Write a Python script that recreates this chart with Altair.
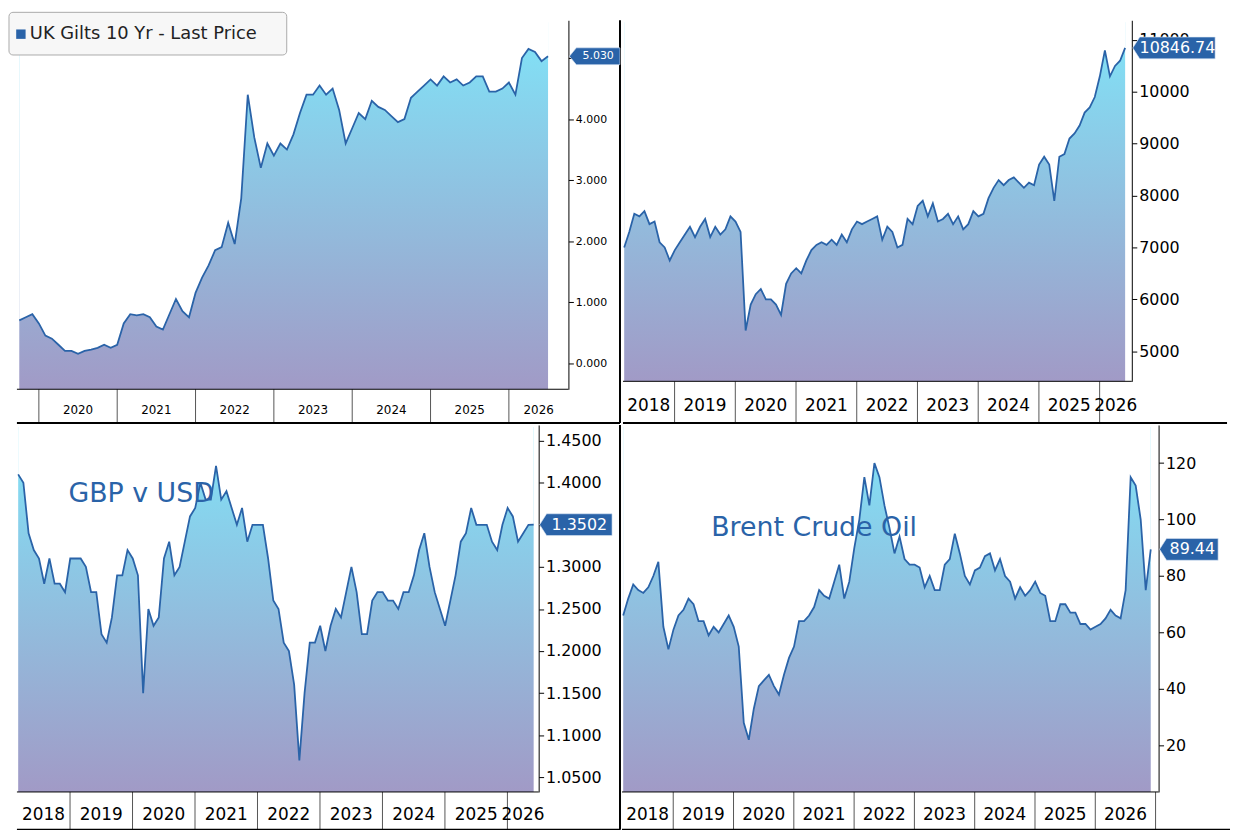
import altair as alt
import pandas as pd

BLUE = "#2a63a8"
FONT = "DejaVu Sans"

# ---- data (monthly readings) ----
gilt_start = 2019.75
gilt = [0.70, 0.75, 0.80,
        0.65, 0.45, 0.40, 0.30, 0.20, 0.20, 0.15, 0.20, 0.22, 0.25, 0.30, 0.25,
        0.30, 0.65, 0.80, 0.78, 0.80, 0.75, 0.60, 0.55, 0.80, 1.05, 0.85, 0.75,
        1.15, 1.40, 1.60, 1.85, 1.90, 2.30, 1.95, 2.70, 4.40, 3.70, 3.20, 3.60,
        3.40, 3.60, 3.50, 3.75, 4.10, 4.40, 4.40, 4.55, 4.40, 4.50, 4.15, 3.60,
        3.85, 4.10, 4.00, 4.30, 4.20, 4.15, 4.05, 3.95, 4.00, 4.35, 4.45, 4.55,
        4.65, 4.55, 4.70, 4.60, 4.65, 4.55, 4.60, 4.70, 4.70, 4.45, 4.45, 4.50,
        4.60, 4.40, 5.00, 5.15, 5.10, 4.95, 5.03]

ftse_start = 2018.17
ftse = [7000, 7300, 7650, 7600, 7700, 7450, 7500, 7100, 7000, 6750,
        6950, 7100, 7250, 7400, 7200, 7400, 7550, 7200, 7400, 7250, 7350, 7600,
        7500, 7300, 5400, 5900, 6100, 6200, 6000, 6000, 5900, 5700, 6300, 6500,
        6600, 6500, 6750, 6950, 7050, 7100, 7050, 7150, 7050, 7250, 7100, 7350,
        7500, 7450, 7500, 7550, 7600, 7150, 7400, 7300, 7000, 7050, 7550, 7450,
        7800, 7900, 7600, 7850, 7500, 7550, 7650, 7450, 7600, 7350, 7450, 7700,
        7600, 7650, 7950, 8150, 8300, 8200, 8300, 8350, 8250, 8150, 8250, 8200,
        8600, 8750, 8600, 7900, 8750, 8800, 9100, 9200, 9350, 9600, 9700, 9900,
        10300, 10800, 10300, 10500, 10600, 10846.74]

gbp_start = 2018.17
gbp = [1.41, 1.40, 1.34, 1.32, 1.31, 1.28, 1.31, 1.28, 1.28, 1.27,
       1.31, 1.31, 1.31, 1.30, 1.27, 1.27, 1.22, 1.21, 1.24, 1.29, 1.29, 1.32,
       1.31, 1.29, 1.15, 1.25, 1.23, 1.24, 1.31, 1.33, 1.29, 1.30, 1.33, 1.36,
       1.37, 1.40, 1.38, 1.38, 1.42, 1.38, 1.39, 1.37, 1.35, 1.37, 1.33, 1.35,
       1.35, 1.35, 1.31, 1.26, 1.25, 1.21, 1.20, 1.16, 1.07, 1.15, 1.21, 1.21,
       1.23, 1.20, 1.23, 1.25, 1.24, 1.27, 1.30, 1.27, 1.22, 1.22, 1.26, 1.27,
       1.27, 1.26, 1.26, 1.25, 1.27, 1.27, 1.29, 1.32, 1.34, 1.30, 1.27, 1.25,
       1.23, 1.26, 1.29, 1.33, 1.34, 1.37, 1.35, 1.35, 1.35, 1.33, 1.32, 1.35,
       1.37, 1.36, 1.33, 1.34, 1.35, 1.3502]

brent_start = 2018.17
brent = [66, 72, 77, 75, 74, 76, 80, 85, 62, 54,
         61, 66, 68, 72, 70, 64, 64, 59, 62, 60, 63, 66,
         62, 55, 28, 22, 33, 41, 43, 45, 41, 38, 45, 51,
         55, 64, 64, 66, 69, 75, 73, 72, 78, 84, 72, 78,
         90, 100, 115, 105, 120, 115, 105, 97, 88, 94, 86, 84,
         84, 83, 76, 80, 75, 75, 84, 86, 95, 88, 80, 77,
         82, 83, 87, 88, 82, 86, 80, 78, 72, 76, 73, 75,
         78, 74, 73, 64, 64, 70, 70, 67, 67, 63, 63, 61,
         62, 63, 65, 68, 66, 65, 75, 115, 112, 100, 75, 89.44]


def tag_path(body_w, h, tip=7):
    s = body_w / 2
    a, hh = -1 - tip / s, h / 2 / s
    return f"M{a:.3f},0L-1,{-hh:.3f}L1,{-hh:.3f}L1,{hh:.3f}L-1,{hh:.3f}Z"


def panel(start, vals, xdom, ydom, ticks, fmt, W, H, strip, fs, tag_w,
          last_label, sep_right=None):
    df = pd.DataFrame({"t": [start + i / 12 for i in range(len(vals))], "v": vals})
    df["top"] = ydom[1]
    xs = alt.Scale(domain=xdom, nice=False, zero=False)
    ys = alt.Scale(domain=ydom, nice=False, zero=False)
    grad = alt.Gradient(gradient="linear",
                        stops=[alt.GradientStop(color="#a19ac6", offset=0),
                               alt.GradientStop(color="#80e4f8", offset=1)],
                        x1=0, x2=0, y1=1, y2=0)
    x = alt.X("t:Q", scale=xs, axis=None)
    span = pd.DataFrame({"t": [df.t.iloc[0]], "t2": [df.t.iloc[-1]]})
    fill = alt.Chart(span).mark_rect(color=grad).encode(
        x=x, x2="t2:Q", y=alt.value(2), y2=alt.value(H))
    mask = alt.Chart(df).mark_area(color="white", opacity=1, clip=True).encode(
        x=x,
        y=alt.Y("v:Q", scale=ys, axis=alt.Axis(
            orient="right", values=ticks, format=fmt, title=None, grid=False,
            labelFont=FONT, labelFontSize=fs, labelColor="black",
            domainColor="black", tickColor="black", tickSize=5)),
        y2="top:Q")
    line = alt.Chart(df).mark_line(color=BLUE, strokeWidth=1.8, clip=True).encode(
        x=x, y=alt.Y("v:Q", scale=ys))

    yrs = list(range(int(xdom[0]) + 1, int(xdom[1]) + 1))
    seps = alt.Chart(pd.DataFrame({"t": yrs})).mark_rule(color="#555").encode(
        x=x, y=alt.value(H), y2=alt.value(H + strip))
    labs = []
    for y in range(int(xdom[0]), int(xdom[1]) + 1):
        a, b = max(y, xdom[0]), min(y + 1, xdom[1])
        if b - a >= 0.4:
            labs.append({"t": (a + b) / 2, "lab": str(y)})
    years = alt.Chart(pd.DataFrame(labs)).mark_text(
        font=FONT, fontSize=fs + 1, color="black").encode(
        x=x, y=alt.value(H + strip / 2 + 4), text="lab:N")
    base = alt.Chart(pd.DataFrame({"k": [0]})).mark_rule(color="black").encode(
        x=alt.value(0), x2=alt.value(W), y=alt.value(H))

    right = sep_right if sep_right else W + tag_w + 20
    hsep = alt.Chart(pd.DataFrame({"k": [0]})).mark_rule(color="black", strokeWidth=2).encode(
        x=alt.value(0), x2=alt.value(right), y=alt.value(H + strip))
    layers = [fill, mask, line, seps, years, base, hsep]
    if sep_right:
        layers.append(alt.Chart(pd.DataFrame({"k": [0]})).mark_rule(
            color="black", strokeWidth=2).encode(
            x=alt.value(sep_right), y=alt.value(0), y2=alt.value(H + strip)))

    last = pd.DataFrame({"v": [vals[-1]], "lab": [last_label]})
    cx = W + 8 + tag_w / 2
    tagm = alt.Chart(last).mark_point(
        shape=tag_path(tag_w, fs + 6), size=tag_w ** 2, filled=True,
        color=BLUE, opacity=1, stroke="#dde8f5", strokeWidth=0.6).encode(
        x=alt.value(cx), y=alt.Y("v:Q", scale=ys))
    tagt = alt.Chart(last).mark_text(font=FONT, fontSize=fs, color="white").encode(
        x=alt.value(cx), y=alt.Y("v:Q", scale=ys), text="lab:N")
    layers += [tagm, tagt]
    return layers


# top left: UK Gilts
W1, H1 = 556, 372
p1 = panel(gilt_start, gilt, [2019.72, 2026.76], [-0.43, 5.62],
           [0, 1, 2, 3, 4, 5], ".3f", W1, H1, 34, 11, 44, "5.030", sep_right=W1 + 52)
leg_box = alt.Chart(pd.DataFrame({"k": [0]})).mark_rect(
    fill="#f7f7f7", stroke="#aaa", cornerRadius=4).encode(
    x=alt.value(-8), x2=alt.value(272), y=alt.value(-8), y2=alt.value(35))
leg_sq = alt.Chart(pd.DataFrame({"k": [0]})).mark_square(
    color=BLUE, size=90, opacity=1).encode(x=alt.value(4), y=alt.value(14))
leg_txt = alt.Chart(pd.DataFrame({"lab": ["UK Gilts 10 Yr - Last Price"]})).mark_text(
    font=FONT, fontSize=18, align="left", color="#222").encode(
    x=alt.value(13), y=alt.value(14), text="lab:N")
c1 = alt.layer(*p1, leg_box, leg_sq, leg_txt).properties(width=W1, height=H1)

# top right: FTSE
W2, H2 = 513, 364
p2 = panel(ftse_start, ftse, [2018.15, 2026.53], [4420, 11380],
           list(range(5000, 11001, 1000)), "d", W2, H2, 42, 16, 76, "10846.74")
c2 = alt.layer(*p2).properties(width=W2, height=H2)

# bottom left: GBP v USD
W3, H3 = 526, 370
p3 = panel(gbp_start, gbp, [2018.15, 2026.5], [1.0325, 1.4687],
           [1.05 + 0.05 * i for i in range(9)], ".4f", W3, H3, 38, 16, 66, "1.3502",
           sep_right=W3 + 82)
t3 = alt.Chart(pd.DataFrame({"lab": ["GBP v USD"]})).mark_text(
    font=FONT, fontSize=27, align="left", color=BLUE).encode(
    x=alt.value(52), y=alt.value(70), text="lab:N")
c3 = alt.layer(*p3, t3).properties(width=W3, height=H3)

# bottom right: Brent
W4, H4 = 541, 370
p4 = panel(brent_start, brent, [2018.15, 2027.05], [3.5, 133.5],
           [20, 40, 60, 80, 100, 120], "d", W4, H4, 38, 16, 52, "89.44")
t4 = alt.Chart(pd.DataFrame({"lab": ["Brent Crude Oil"]})).mark_text(
    font=FONT, fontSize=27, align="left", color=BLUE).encode(
    x=alt.value(90), y=alt.value(104), text="lab:N")
c4 = alt.layer(*p4, t4).properties(width=W4, height=H4)

chart = alt.vconcat(
    alt.hconcat(c1, c2, spacing=0),
    alt.hconcat(c3, c4, spacing=0),
    spacing=0,
).properties(padding=0, background="white").configure_view(stroke=None)

chart.save("out.html", embed_options={"renderer": "svg", "actions": False})
